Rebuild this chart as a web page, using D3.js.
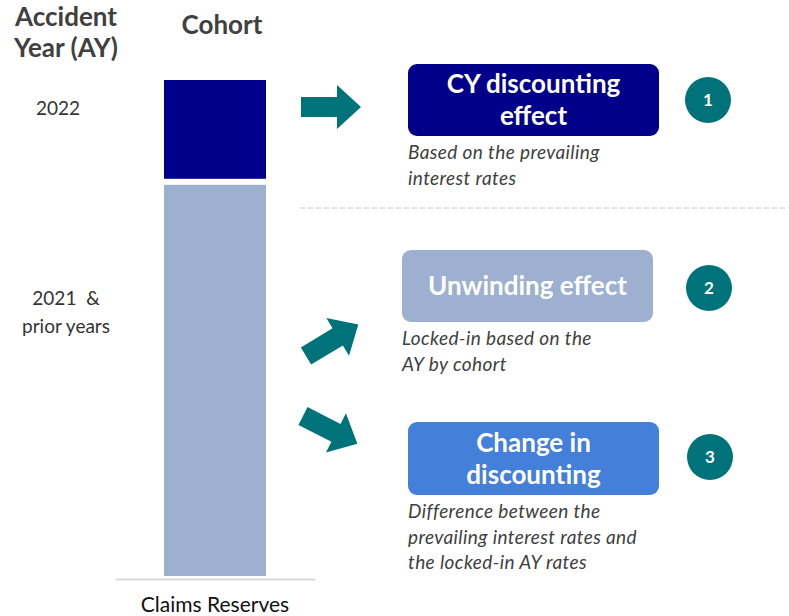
<!DOCTYPE html>
<html>
<head>
<meta charset="utf-8">
<script src="https://cdn.jsdelivr.net/npm/d3@7"></script>
<style>
  body { margin: 0; background: #fff; }
  svg text { font-family: Lato, "Open Sans", sans-serif; }
</style>
</head>
<body>
<div id="chart"></div>
<script>
// cohort stacked bar (bottom to top)
const cohorts = ["2021 & prior years", "2022"];
const cohortLabels = [["2021\u00a0\u00a0&", "prior years"], ["2022"]];
const cohortValues = [79, 21];
const cohortColors = ["#9db0cf", "#00008b"];
const barCategory = ["Claims Reserves"];

// effects boxes
const effectTitles = [["CY discounting", "effect"], ["Unwinding effect"], ["Change in", "discounting"]];
const effectNotes = [
    ["Based on the prevailing", "interest rates"],
    ["Locked-in based on the", "AY by cohort"],
    ["Difference between the", "prevailing interest rates and", "the locked-in AY rates"]
];
const effectNumbers = ["1", "2", "3"];
const effectColors = ["#00008b", "#9db0cf", "#4480d9"];

const width = 789, height = 616;
const teal = "#00737a", grey = "#404040";

const svg = d3.select("#chart").append("svg")
    .attr("width", width)
    .attr("height", height);

// x scale: one band for the bar
const x = d3.scaleBand()
    .domain(barCategory)
    .range([115, 315])
    .padding(0.3245);

// y scale for stacked values
const y = d3.scaleLinear()
    .domain([0, d3.sum(cohortValues)])
    .range([579, 80]);

let stacked = [];
let acc = 0;
cohortValues.forEach((v, i) => { stacked.push({key: cohorts[i], y0: acc, y1: acc + v, i: i}); acc += v; });

svg.selectAll("rect.seg").data(stacked).enter()
    .append("rect")
    .attr("class", "seg")
    .attr("x", x("Claims Reserves"))
    .attr("width", x.bandwidth())
    .attr("y", d => y(d.y1))
    .attr("height", d => y(d.y0) - y(d.y1) - (d.i == 0 ? 3 : 6))
    .attr("fill", d => cohortColors[d.i]);

// x axis (baseline + category label)
let xAxis = svg.append("g")
    .attr("transform", "translate(0,579)")
    .call(d3.axisBottom(x).tickSize(0).tickSizeOuter(0).tickPadding(18));
xAxis.select(".domain").attr("stroke", "#d9d9d9").attr("stroke-width", 2);
xAxis.selectAll("text").attr("font-size", 21).attr("fill", "#111")
    .style("font-family", "Lato, sans-serif");

// headers
svg.append("text")
    .attr("x", 66).attr("y", 26)
    .attr("text-anchor", "middle")
    .attr("font-size", 26).attr("font-weight", "bold").attr("fill", grey)
    .selectAll("tspan").data(["Accident", "Year (AY)"]).enter()
    .append("tspan").attr("x", 66).attr("dy", (d, i) => i ? 31 : 0).text(d => d);

svg.append("text")
    .attr("x", 222).attr("y", 34)
    .attr("text-anchor", "middle")
    .attr("font-size", 26).attr("font-weight", "bold").attr("fill", grey)
    .text("Cohort");

// cohort labels on the left
const labelY = [298, 108];
const labelX = [66, 58];
cohortLabels.forEach((lines, i) => {
    svg.append("text")
        .attr("text-anchor", "middle")
        .attr("font-size", 19).attr("fill", "#333")
        .selectAll("tspan").data(lines).enter()
        .append("tspan")
        .attr("x", labelX[i])
        .attr("y", (d, j) => labelY[i] + 7 + j * 28)
        .text(d => d);
});

// arrows
function arrowPath(len, shaft, head, headLen) {
    const p = d3.path();
    p.moveTo(0, -shaft);
    p.lineTo(len - headLen, -shaft);
    p.lineTo(len - headLen, -head);
    p.lineTo(len, 0);
    p.lineTo(len - headLen, head);
    p.lineTo(len - headLen, shaft);
    p.lineTo(0, shaft);
    p.closePath();
    return p.toString();
}
const arrows = [
    {x: 301, y: 107, a: 0, len: 60},
    {x: 306, y: 356, a: -31, len: 61},
    {x: 303, y: 416, a: 27, len: 61}
];
svg.selectAll("path.arrow").data(arrows).enter()
    .append("path")
    .attr("class", "arrow")
    .attr("d", d => arrowPath(d.len, 10, 22, 24))
    .attr("transform", d => `translate(${d.x},${d.y}) rotate(${d.a})`)
    .attr("fill", teal);

// dashed separator
svg.append("line")
    .attr("x1", 300).attr("x2", 789)
    .attr("y1", 208).attr("y2", 208)
    .attr("stroke", "#c8c8c8").attr("stroke-dasharray", "5,3");

// effect boxes
const boxes = [
    {x: 408, y: 64, w: 251, h: 72},
    {x: 402, y: 250, w: 251, h: 72},
    {x: 408, y: 422, w: 251, h: 73}
];
const circles = [{cx: 708, cy: 100}, {cx: 709, cy: 288}, {cx: 710, cy: 457}];

boxes.forEach((b, i) => {
    let g = svg.append("g");
    g.append("rect")
        .attr("x", b.x).attr("y", b.y)
        .attr("width", b.w).attr("height", b.h)
        .attr("rx", 9)
        .attr("fill", effectColors[i]);

    let lines = effectTitles[i];
    let cy = b.y + b.h / 2;
    let lh = 32;
    g.append("text")
        .attr("text-anchor", "middle")
        .attr("font-size", 26).attr("font-weight", "bold").attr("fill", "#fff")
        .selectAll("tspan").data(lines).enter()
        .append("tspan")
        .attr("x", b.x + b.w / 2)
        .attr("y", (d, j) => cy + 9 + (j - (lines.length - 1) / 2) * lh)
        .text(d => d);

    // note under box
    g.append("text")
        .attr("font-size", 19).attr("font-style", "italic").attr("fill", grey)
        .attr("letter-spacing", 0.4)
        .selectAll("tspan").data(effectNotes[i]).enter()
        .append("tspan")
        .attr("x", b.x)
        .attr("y", (d, j) => b.y + b.h + 23 + j * 25.5)
        .text(d => d);

    // numbered circle
    g.append("circle")
        .attr("cx", circles[i].cx).attr("cy", circles[i].cy)
        .attr("r", 23)
        .attr("fill", teal);
    g.append("text")
        .attr("x", circles[i].cx).attr("y", circles[i].cy + 6)
        .attr("text-anchor", "middle")
        .attr("font-size", 17).attr("font-weight", "bold").attr("fill", "#fff")
        .text(effectNumbers[i]);
});
</script>
</body>
</html>
